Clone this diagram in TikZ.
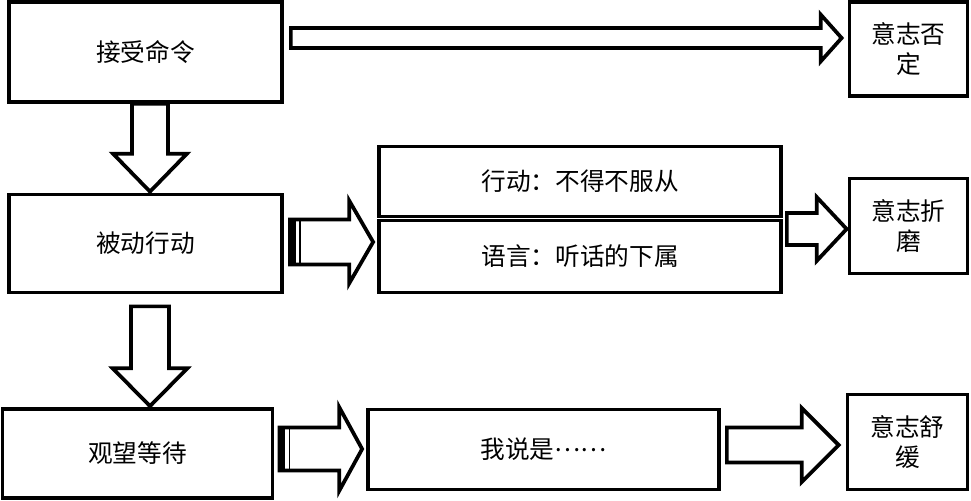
\documentclass[tikz,border=0pt]{standalone}
\usepackage{fontspec}
\newfontfamily\cjk{Noto Sans CJK SC}
\usetikzlibrary{calc}

\tikzset{
  box/.style={draw, line width=2.8pt, fill=white, inner sep=0pt, align=center,
    font=\cjk\fontsize{18.5}{22.5}\selectfont},
  boxw/.style={minimum width=#1*0.75pt},
  boxh/.style={minimum height=#1*0.75pt},
  blockarrow/.style={draw, line width=2.8pt, fill=white, line join=miter}
}

% block arrow to the right: start, tip, half shaft, half head, head length
\newcommand{\harrow}[5]{%
  \path[blockarrow] ($(#1)+(0,-#3)$) -- ($(#2)+(-#5,-#3)$) -- ($(#2)+(-#5,-#4)$) -- (#2)
    -- ($(#2)+(-#5,#4)$) -- ($(#2)+(-#5,#3)$) -- ($(#1)+(0,#3)$) -- cycle;}
% block arrow downwards
\newcommand{\varrow}[5]{%
  \path[blockarrow] ($(#1)+(-#3,0)$) -- ($(#2)+(-#3,-#5)$) -- ($(#2)+(-#4,-#5)$) -- (#2)
    -- ($(#2)+(#4,-#5)$) -- ($(#2)+(#3,-#5)$) -- ($(#1)+(#3,0)$) -- cycle;}
% double bar at the tail of an arrow
\newcommand{\tailbar}[2]{%
  \fill ($(#1)+(0,-#2)$) rectangle ($(#1)+(6,#2)$);
  \path[draw, line width=1pt] ($(#1)+(10,-#2)$) -- ($(#1)+(10,#2)$);}

\begin{document}
\begin{tikzpicture}[x=0.75pt, y=-0.75pt]
  \useasboundingbox (0,0) rectangle (971,500);

  % left column
  \node[box, boxw=273, boxh=100] (cmd) at (145.5,52) {接受命令};
  \node[box, boxw=273, boxh=98] (passive) at (145.5,243.5) {被动行动};
  \node[box, boxw=270, boxh=89] (wait) at (137.5,453.5) {观望等待};

  % middle column
  \node[box, boxw=402, boxh=70] (act) at (580,181.5) {行动：不得不服从};
  \node[box, boxw=402, boxh=72] (speech) at (580,256.5) {语言：听话的下属};
  \node[box, boxw=351, boxh=80] (say) at (543.5,449.5) {我说是\raisebox{0.3em}{……}};

  % right column
  \node[box, boxw=118, boxh=94] (deny) at (908.5,49) {意志否\\定};
  \node[box, boxw=118, boxh=95] (torment) at (908.5,226) {意志折\\磨};
  \node[box, boxw=120, boxh=95] (relief) at (907.5,442) {意志舒\\缓};

  % arrow ends
  \coordinate (a1s) at ($(cmd.east)+(7,-14)$);
  \coordinate (a1t) at ($(a1s -| deny.west)+(-6,0)$);
  \coordinate (a2s) at ($(passive.east)+(6,-1.5)$);
  \coordinate (a2t) at ($(a2s -| act.west)+(-4,0)$);
  \coordinate (a3s) at ($(wait.east)+(5,-4.5)$);
  \coordinate (a3t) at ($(a3s -| say.west)+(-4,0)$);
  \coordinate (a4s) at ($(speech.east |- torment.west)+(4,3)$);
  \coordinate (a4t) at ($(torment.west)+(-1,3)$);
  \coordinate (a5s) at ($(say.east |- relief.west)+(6,3)$);
  \coordinate (a5t) at ($(relief.west)+(-7,3)$);
  \coordinate (d1s) at ($(cmd.south)+(4.5,0)$);
  \coordinate (d1t) at ($(d1s |- passive.north)+(0,-1)$);
  \coordinate (d2s) at ($(passive.south)+(4.5,12)$);
  \coordinate (d2t) at ($(d2s |- wait.north)+(0,-1)$);

  \harrow{a1s}{a1t}{10}{23.5}{21}
  \harrow{a2s}{a2t}{22.5}{41.5}{24}
  \tailbar{a2s}{22.5}
  \harrow{a3s}{a3t}{21.5}{42}{23}
  \tailbar{a3s}{21.5}
  \harrow{a4s}{a4t}{16}{32}{30}
  \harrow{a5s}{a5t}{17.5}{37}{37}
  \varrow{d1s}{d1t}{18}{37}{38}
  \varrow{d2s}{d2t}{19}{37.5}{38}
\end{tikzpicture}
\end{document}
